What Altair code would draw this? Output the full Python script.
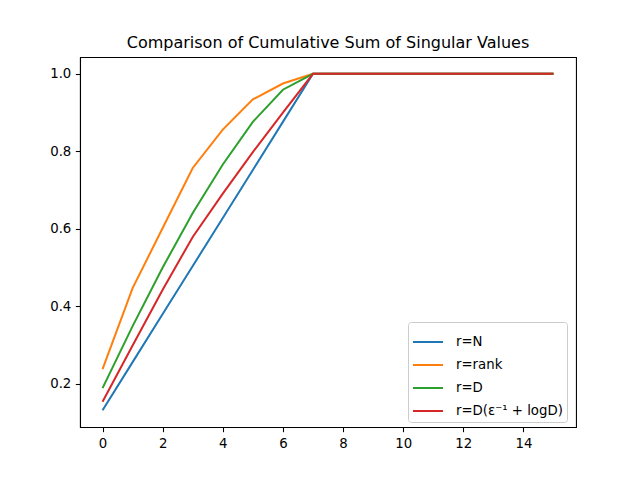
import altair as alt
import pandas as pd

steps = [0, 1, 2, 3, 4, 5, 6, 7, 8, 9, 10, 11, 12, 13, 14, 15]
series_names = ["r=N", "r=rank", "r=D", "r=D(ε⁻¹ + logD)"]
series_colors = ["#1f77b4", "#ff7f0e", "#2ca02c", "#d62728"]

r_N = [0.132, 0.256, 0.380, 0.504, 0.628, 0.752, 0.876, 1.0,
       1.0, 1.0, 1.0, 1.0, 1.0, 1.0, 1.0, 1.0]
r_rank = [0.238, 0.447, 0.602, 0.757, 0.856, 0.934, 0.975, 1.0,
          1.0, 1.0, 1.0, 1.0, 1.0, 1.0, 1.0, 1.0]
r_D = [0.189, 0.349, 0.500, 0.641, 0.766, 0.876, 0.959, 1.0,
       1.0, 1.0, 1.0, 1.0, 1.0, 1.0, 1.0, 1.0]
r_Deps = [0.154, 0.299, 0.443, 0.579, 0.691, 0.798, 0.900, 1.0,
          1.0, 1.0, 1.0, 1.0, 1.0, 1.0, 1.0, 1.0]

x_ticks = [0, 2, 4, 6, 8, 10, 12, 14]
y_ticks = [0.2, 0.4, 0.6, 0.8, 1.0]

rows = []
for name, vals in zip(series_names, [r_N, r_rank, r_D, r_Deps]):
    for s, v in zip(steps, vals):
        rows.append({"step": s, "value": v, "series": name})
df = pd.DataFrame(rows)

FONT = "DejaVu Sans"

chart = alt.Chart(df).mark_line(strokeWidth=2).encode(
    x=alt.X("step:Q",
            scale=alt.Scale(domain=[-0.75, 15.75], nice=False, zero=False),
            axis=alt.Axis(values=x_ticks, format="d", title=None)),
    y=alt.Y("value:Q",
            scale=alt.Scale(domain=[0.0886, 1.0434], nice=False, zero=False),
            axis=alt.Axis(values=y_ticks, format=".1f", title=None)),
    color=alt.Color("series:N",
                    scale=alt.Scale(domain=series_names, range=series_colors),
                    legend=alt.Legend(
                        title=None, orient="none", legendX=328, legendY=265,
                        symbolType="stroke", symbolSize=900, symbolStrokeWidth=2,
                        labelFont=FONT, labelFontSize=13.3, labelColor="black",
                        labelOffset=12, rowPadding=-1,
                        fillColor="white", strokeColor="#cccccc", cornerRadius=3,
                        padding=4)),
).properties(
    width=496, height=370,
    title=alt.TitleParams("Comparison of Cumulative Sum of Singular Values",
                          font=FONT, fontSize=16, fontWeight="normal",
                          color="black", anchor="middle", offset=6),
    autosize=alt.AutoSizeParams(type="none"),
    padding={"left": 80, "top": 57, "right": 64, "bottom": 53},
).configure_view(
    stroke="black", strokeWidth=1.07
).configure_axis(
    grid=False, domainColor="black", domainWidth=1.07,
    tickColor="black", tickWidth=1.07, tickSize=4.67,
    labelFont=FONT, labelFontSize=13.3, labelColor="black", labelPadding=4.5,
)

chart.save("out.html", embed_options={"renderer": "svg", "actions": False})
